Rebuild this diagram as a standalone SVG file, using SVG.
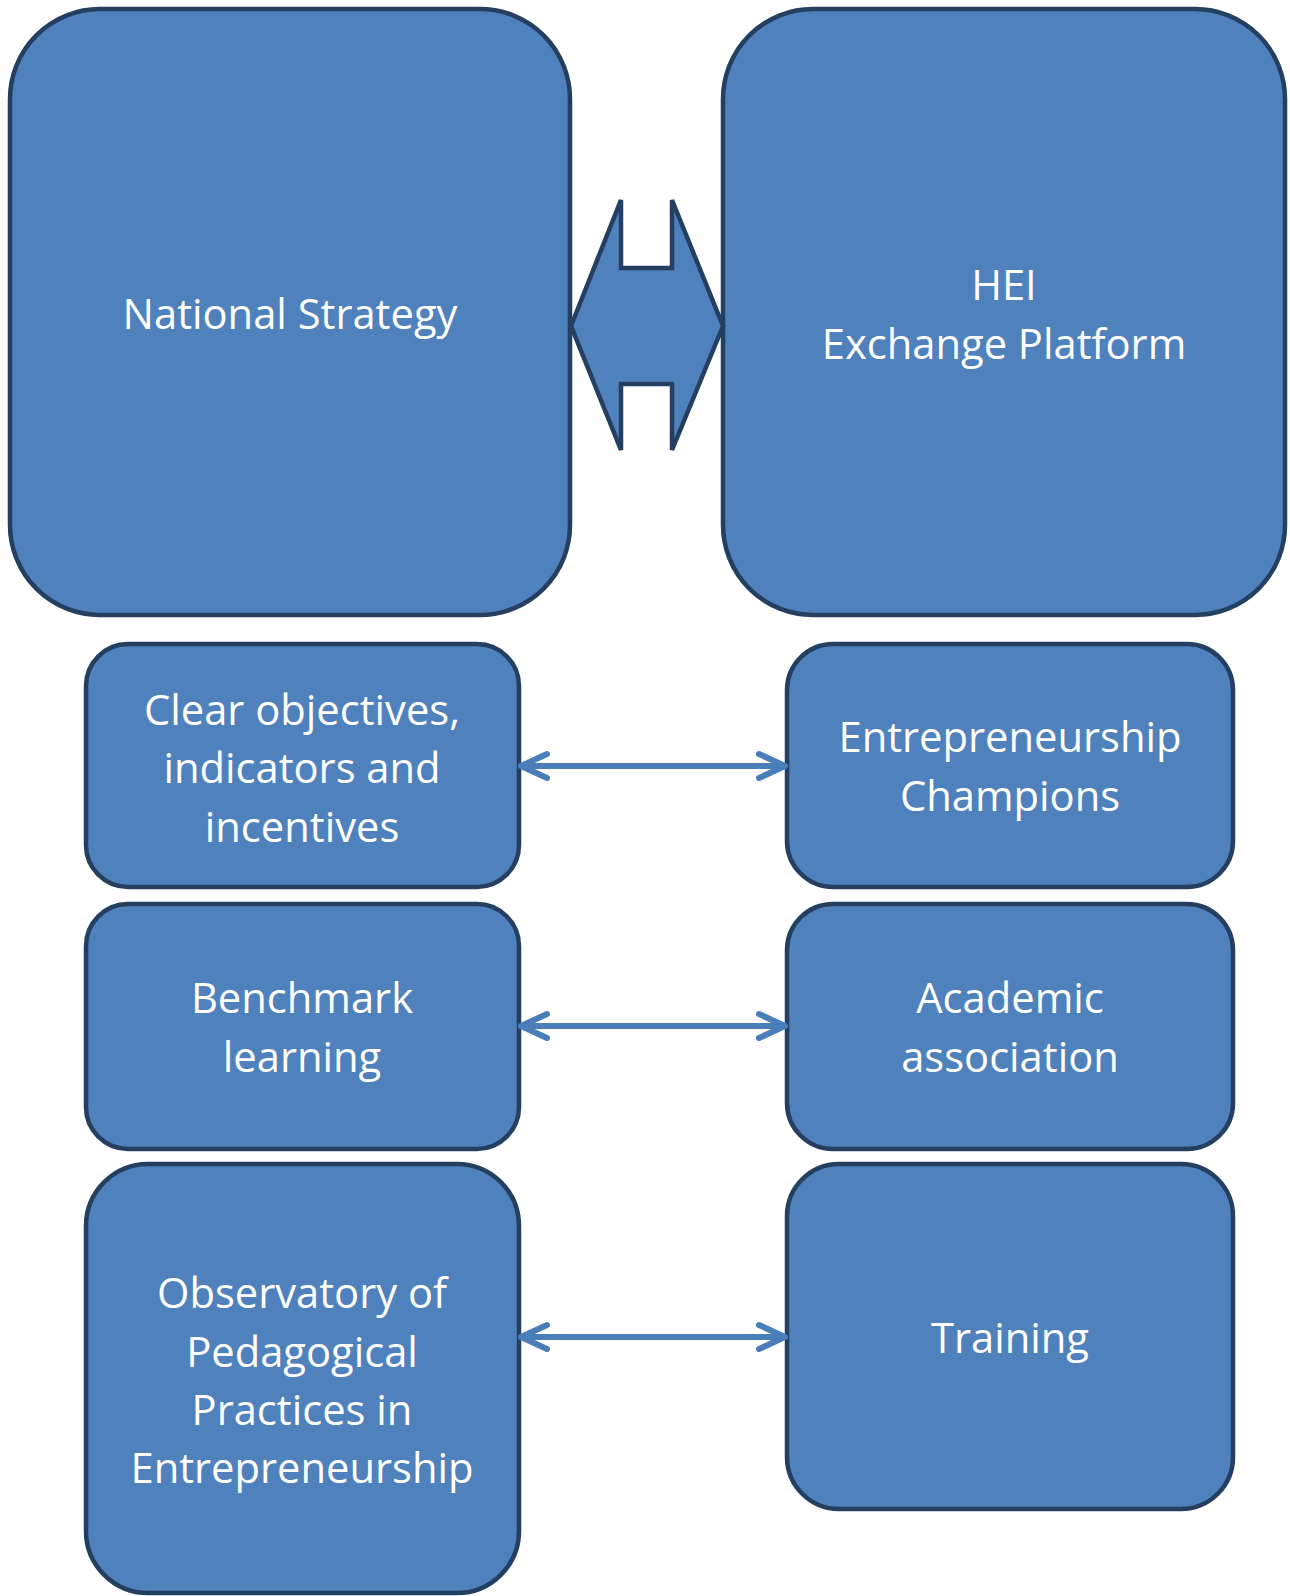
<svg xmlns="http://www.w3.org/2000/svg" width="1290" height="1596" viewBox="0 0 1290 1596">
<style>
.box{fill:#4f81bd;stroke:#243f60;stroke-width:4.5}
.lbl{font-family:"Open Sans","Noto Sans",sans-serif;font-size:41.7px;fill:#ffffff;text-anchor:middle}
.conn{fill:none;stroke:#4a7ebb;stroke-width:6;stroke-linecap:round;stroke-linejoin:round}
</style>
<rect width="1290" height="1596" fill="#ffffff"/>
<g id="national-strategy">
<rect class="box" x="10" y="9" width="560" height="606" rx="90" ry="90"/>
<text class="lbl" x="290" y="329">National Strategy</text>
</g>
<g id="hei-platform">
<rect class="box" x="723" y="9" width="562" height="606" rx="90" ry="90"/>
<text class="lbl" x="1004" y="300">HEI</text>
<text class="lbl" x="1004" y="359">Exchange Platform</text>
</g>
<g id="big-double-arrow">
<path class="box" d="M571,326 L621,200 L621,268 L672,268 L672,200 L723,326 L672,450 L672,384 L621,384 L621,450 Z"/>
</g>
<g id="clear-objectives">
<rect class="box" x="86" y="644" width="433" height="243" rx="42" ry="42"/>
<text class="lbl" x="302" y="725">Clear objectives,</text>
<text class="lbl" x="302" y="783">indicators and</text>
<text class="lbl" x="302" y="842">incentives</text>
</g>
<g id="champions">
<rect class="box" x="787" y="644" width="446" height="243" rx="46" ry="46"/>
<text class="lbl" x="1010" y="752">Entrepreneurship</text>
<text class="lbl" x="1010" y="811">Champions</text>
</g>
<g id="benchmark">
<rect class="box" x="86" y="904" width="433" height="245" rx="42" ry="42"/>
<text class="lbl" x="302" y="1013">Benchmark</text>
<text class="lbl" x="302" y="1072">learning</text>
</g>
<g id="academic">
<rect class="box" x="787" y="904" width="446" height="245" rx="46" ry="46"/>
<text class="lbl" x="1010" y="1013">Academic</text>
<text class="lbl" x="1010" y="1072">association</text>
</g>
<g id="observatory">
<rect class="box" x="86" y="1164" width="433" height="429" rx="62" ry="62"/>
<text class="lbl" x="302" y="1308">Observatory of</text>
<text class="lbl" x="302" y="1367">Pedagogical</text>
<text class="lbl" x="302" y="1425">Practices in</text>
<text class="lbl" x="302" y="1483">Entrepreneurship</text>
</g>
<g id="training">
<rect class="box" x="787" y="1164" width="446" height="345" rx="52" ry="52"/>
<text class="lbl" x="1010" y="1353">Training</text>
</g>
<g id="connectors">
<path class="conn" d="M521,766 L785,766 M547,754 L521,766 L547,778 M759,754 L785,766 L759,778"/>
<path class="conn" d="M521,1026 L785,1026 M547,1014 L521,1026 L547,1038 M759,1014 L785,1026 L759,1038"/>
<path class="conn" d="M521,1337 L785,1337 M547,1325 L521,1337 L547,1349 M759,1325 L785,1337 L759,1349"/>
</g>
</svg>
